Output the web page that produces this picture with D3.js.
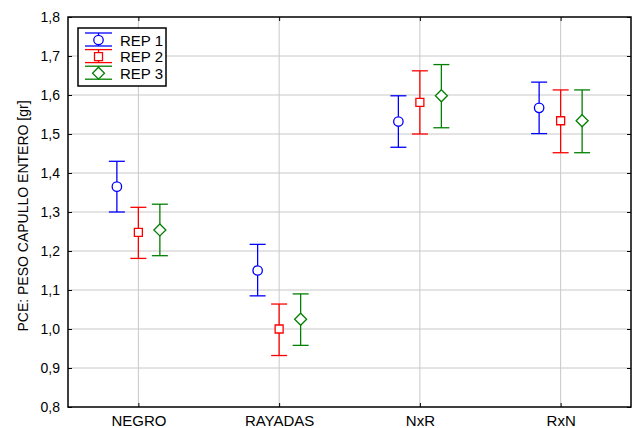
<!DOCTYPE html>
<html>
<head>
<meta charset="utf-8">
<script src="https://cdn.jsdelivr.net/npm/d3@7"></script>
<style>
  body { margin: 0; background: #fff; }
  text { font-family: "Liberation Sans", Arial, sans-serif; }
</style>
</head>
<body>
<div id="chart"></div>
<script>
// category labels and series
const categories = ["NEGRO", "RAYADAS", "NxR", "RxN"];
const seriesNames = ["REP 1", "REP 2", "REP 3"];
const yTicks = [0.8, 0.9, 1.0, 1.1, 1.2, 1.3, 1.4, 1.5, 1.6, 1.7, 1.8];

// means, lower and upper limits per series (order follows categories)
const rep1Mean  = [1.365, 1.150, 1.532, 1.567];
const rep1Lower = [1.300, 1.085, 1.466, 1.501];
const rep1Upper = [1.430, 1.217, 1.598, 1.633];

const rep2Mean  = [1.248, 1.000, 1.581, 1.534];
const rep2Lower = [1.181, 0.932, 1.500, 1.452];
const rep2Upper = [1.312, 1.064, 1.662, 1.613];

const rep3Mean  = [1.254, 1.025, 1.598, 1.534];
const rep3Lower = [1.188, 0.958, 1.516, 1.452];
const rep3Upper = [1.320, 1.090, 1.678, 1.613];

const width = 636;
const height = 428;
const margin = {left: 68, right: 5, top: 17, bottom: 21};

const colors = ["#0000ff", "#ff0000", "#008000"];

// square diamond (d3's own diamond is too tall)
const squareDiamond = {
    draw(ctx, size) {
        const r = Math.sqrt(size / 2);
        ctx.moveTo(0, -r); ctx.lineTo(r, 0); ctx.lineTo(0, r); ctx.lineTo(-r, 0); ctx.closePath();
    }
};
const symbols = [d3.symbolCircle, d3.symbolSquare, squareDiamond];
const symbolSizes = [70, 64, 72];

const series = [
    {name: seriesNames[0], mean: rep1Mean, lo: rep1Lower, hi: rep1Upper},
    {name: seriesNames[1], mean: rep2Mean, lo: rep2Lower, hi: rep2Upper},
    {name: seriesNames[2], mean: rep3Mean, lo: rep3Lower, hi: rep3Upper}
];

let xScale = d3.scalePoint()
    .domain(categories)
    .range([margin.left, width - margin.right])
    .padding(0.5);

let yScale = d3.scaleLinear()
    .domain([0.8, 1.8])
    .range([height - margin.bottom, margin.top]);

// offset inside each group
let offScale = d3.scalePoint()
    .domain(seriesNames)
    .range([-21.5, 21.5]);

const fmt = d => d3.format(".1f")(d).replace(".", ",");

const svg = d3.select("#chart")
    .append("svg")
    .attr("width", width)
    .attr("height", height);

// grid
svg.append("g")
    .selectAll("line")
    .data(yTicks.slice(1, -1))
    .join("line")
    .attr("x1", margin.left).attr("x2", width - margin.right)
    .attr("y1", d => yScale(d)).attr("y2", d => yScale(d))
    .attr("stroke", "#c8c8c8").attr("stroke-width", 1);

svg.append("g")
    .selectAll("line")
    .data(categories)
    .join("line")
    .attr("x1", d => xScale(d)).attr("x2", d => xScale(d))
    .attr("y1", margin.top).attr("y2", height - margin.bottom)
    .attr("stroke", "#c8c8c8").attr("stroke-width", 1);

// axes
svg.append("g")
    .attr("transform", `translate(${margin.left},0)`)
    .call(d3.axisLeft(yScale).tickValues(yTicks).tickFormat(fmt).tickSize(-4).tickPadding(8))
    .call(g => g.select(".domain").remove())
    .call(g => g.selectAll(".tick line").attr("stroke", "#000"))
    .selectAll("text")
    .attr("font-size", "14px").attr("fill", "#000");

svg.append("g")
    .attr("transform", `translate(${width - margin.right},0)`)
    .call(d3.axisRight(yScale).tickValues(yTicks).tickFormat("").tickSize(-4))
    .call(g => g.select(".domain").remove());

svg.append("g")
    .attr("transform", `translate(0,${height - margin.bottom})`)
    .call(d3.axisBottom(xScale).tickSize(-4).tickPadding(8))
    .call(g => g.select(".domain").remove())
    .selectAll("text")
    .attr("font-size", "15px").attr("fill", "#000");

svg.append("g")
    .attr("transform", `translate(0,${margin.top})`)
    .call(d3.axisTop(xScale).tickSize(-4).tickFormat(""))
    .call(g => g.select(".domain").remove());

// frame
svg.append("rect")
    .attr("x", margin.left).attr("y", margin.top)
    .attr("width", width - margin.left - margin.right)
    .attr("height", height - margin.top - margin.bottom)
    .attr("fill", "none").attr("stroke", "#000").attr("stroke-width", 1.5);

svg.append("text")
    .attr("transform", `translate(28,216) rotate(-90)`)
    .attr("text-anchor", "middle")
    .attr("font-size", "14px")
    .text("PCE: PESO CAPULLO ENTERO [gr]");

// error bars
const capW = 8;
series.forEach((s, i) => {
    const g = svg.append("g").attr("stroke", colors[i]).attr("stroke-width", 1.3);
    const cx = j => xScale(categories[j]) + offScale(s.name);
    const items = categories.map((c, j) => j);

    g.selectAll(".whisker")
        .data(items).join("line")
        .attr("class", "whisker")
        .attr("x1", j => cx(j)).attr("x2", j => cx(j))
        .attr("y1", j => yScale(s.lo[j])).attr("y2", j => yScale(s.hi[j]));
    g.selectAll(".capHi")
        .data(items).join("line")
        .attr("class", "capHi")
        .attr("x1", j => cx(j) - capW).attr("x2", j => cx(j) + capW)
        .attr("y1", j => yScale(s.hi[j])).attr("y2", j => yScale(s.hi[j]));
    g.selectAll(".capLo")
        .data(items).join("line")
        .attr("class", "capLo")
        .attr("x1", j => cx(j) - capW).attr("x2", j => cx(j) + capW)
        .attr("y1", j => yScale(s.lo[j])).attr("y2", j => yScale(s.lo[j]));
    g.selectAll(".mark")
        .data(items).join("path")
        .attr("class", "mark")
        .attr("transform", j => `translate(${cx(j)},${yScale(s.mean[j])})`)
        .attr("d", d3.symbol().type(symbols[i]).size(symbolSizes[i]))
        .attr("fill", "#fff");
});

// legend
const legend = svg.append("g").attr("transform", "translate(78,28)");
legend.append("rect")
    .attr("width", 88).attr("height", 58)
    .attr("fill", "#fff").attr("stroke", "#000").attr("stroke-width", 1.5);

series.forEach((s, i) => {
    const y = 12 + i * 16.6;
    const lg = legend.append("g").attr("stroke", colors[i]).attr("stroke-width", 1.3);
    lg.append("line").attr("x1", 7).attr("x2", 34).attr("y1", y - 7).attr("y2", y - 7);
    lg.append("line").attr("x1", 7).attr("x2", 34).attr("y1", y + 6).attr("y2", y + 6);
    lg.append("line").attr("x1", 20.5).attr("x2", 20.5).attr("y1", y - 7).attr("y2", y + 6);
    lg.append("path")
        .attr("transform", `translate(20.5,${y})`)
        .attr("d", d3.symbol().type(symbols[i]).size(symbolSizes[i]))
        .attr("fill", "#fff");
    legend.append("text")
        .attr("x", 42).attr("y", y + 5.5)
        .attr("font-size", "15px")
        .text(s.name);
});
</script>
</body>
</html>
